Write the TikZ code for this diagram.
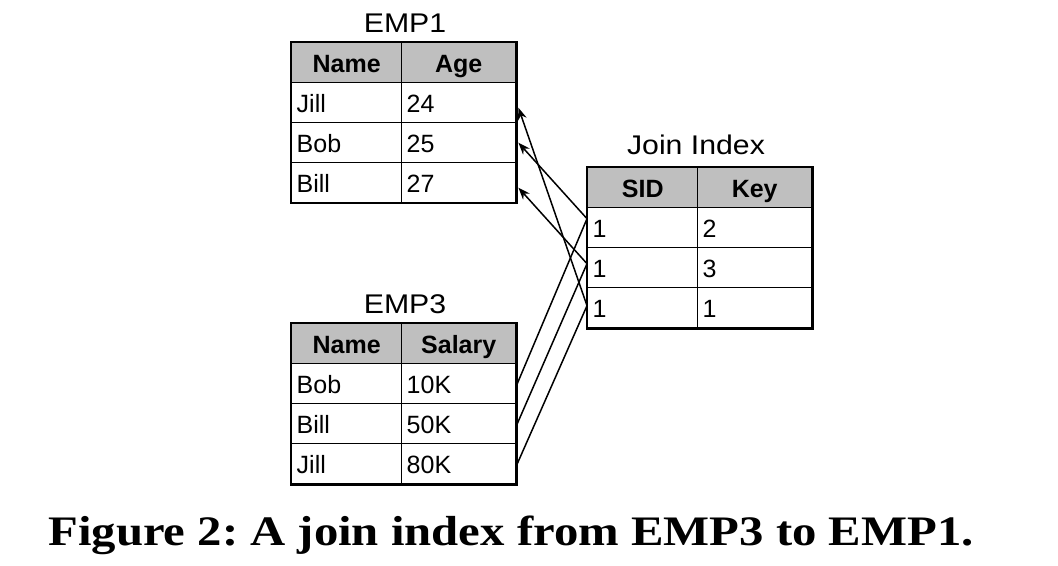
\documentclass[tikz,border=0pt]{standalone}
\usepackage{fontspec}
\setmainfont{Liberation Serif}
\setsansfont{Liberation Sans}
\newfontfamily\capfont{Liberation Serif}[FakeStretch=1.16]
\newfontfamily\titlefont{Liberation Sans}[FakeStretch=1.12]
\usetikzlibrary{arrows.meta}

\begin{document}
\begin{tikzpicture}[x=0.5pt,y=-0.5pt,
    cell/.style={draw,line width=0.7pt,anchor=north west,minimum height=20pt,
      text height=10pt,text depth=0pt,inner xsep=2.5pt,inner ysep=0pt,align=left,
      font=\sffamily\fontsize{12.5}{14}\selectfont},
    namecol/.style={cell,text width=50pt},
    valcol/.style={cell,text width=52pt},
    head/.style={fill=black!25,align=center,font=\sffamily\bfseries\fontsize{12.5}{14}\selectfont},
    title/.style={font=\titlefont\fontsize{13.5}{15}\selectfont,anchor=base},
    frame/.style={line width=1.1pt},
    link/.style={line width=0.75pt},
    ptr/.style={link,-{Stealth[length=6pt,width=4.5pt]}}]
  \useasboundingbox (0,0) rectangle (1058,566);

  % EMP1
  \node[title] (t1) at (405,33) {EMP1};
  \node[namecol,head] (e1h1) at (291,42) {Name};
  \node[valcol,head] (e1h2) at (401,42) {Age};
  \node[namecol] (e1n1) at (291,82) {Jill};
  \node[valcol] (e1v1) at (401,82) {24};
  \node[namecol] (e1n2) at (291,122) {Bob};
  \node[valcol] (e1v2) at (401,122) {25};
  \node[namecol] (e1n3) at (291,162) {Bill};
  \node[valcol] (e1v3) at (401,162) {27};
  \draw[frame] (e1h1.north west) rectangle (e1v3.south east);

  % Join Index
  \node[title] (t2) at (696,155) {Join Index};
  \node[namecol,head] (jh1) at (587,167) {SID};
  \node[valcol,head] (jh2) at (697,167) {Key};
  \node[namecol] (s1) at (587,207) {1};
  \node[valcol] (k1) at (697,207) {2};
  \node[namecol] (s2) at (587,247) {1};
  \node[valcol] (k2) at (697,247) {3};
  \node[namecol] (s3) at (587,287) {1};
  \node[valcol] (k3) at (697,287) {1};
  \draw[frame] (jh1.north west) rectangle (k3.south east);

  % EMP3
  \node[title] (t3) at (405,314) {EMP3};
  \node[namecol,head] (e3h1) at (291,323) {Name};
  \node[valcol,head] (e3h2) at (401,323) {Salary};
  \node[namecol] (e3n1) at (291,363) {Bob};
  \node[valcol] (e3v1) at (401,363) {10K};
  \node[namecol] (e3n2) at (291,403) {Bill};
  \node[valcol] (e3v2) at (401,403) {50K};
  \node[namecol] (e3n3) at (291,443) {Jill};
  \node[valcol] (e3v3) at (401,443) {80K};
  \draw[frame] (e3h1.north west) rectangle (e3v3.south east);

  \coordinate (j1) at ([yshift=4.5pt]s1.west);
  \coordinate (j2) at ([yshift=2pt]s2.west);
  \coordinate (j3) at ([yshift=1pt]s3.west);

  \begin{scope}
    \draw[ptr] (j1) -- ([xshift=1pt]e1v2.east);
    \draw[ptr] (j2) -- ([xshift=1pt,yshift=-2.5pt]e1v3.east);
    \draw[ptr] (j3) -- ([xshift=1pt,yshift=-2.5pt]e1v1.east);
    \draw[link] ([yshift=-1pt]e3v1.east) -- (j1);
    \draw[link] ([yshift=-1pt]e3v2.east) -- (j2);
    \draw[link] ([yshift=-1pt]e3v3.east) -- (j3);
  \end{scope}

  \node[font=\capfont\bfseries\fontsize{21}{25}\selectfont\frenchspacing,anchor=base] (cap)
    at (511,545) {Figure 2: A join index from EMP3 to EMP1.};
\end{tikzpicture}
\end{document}
